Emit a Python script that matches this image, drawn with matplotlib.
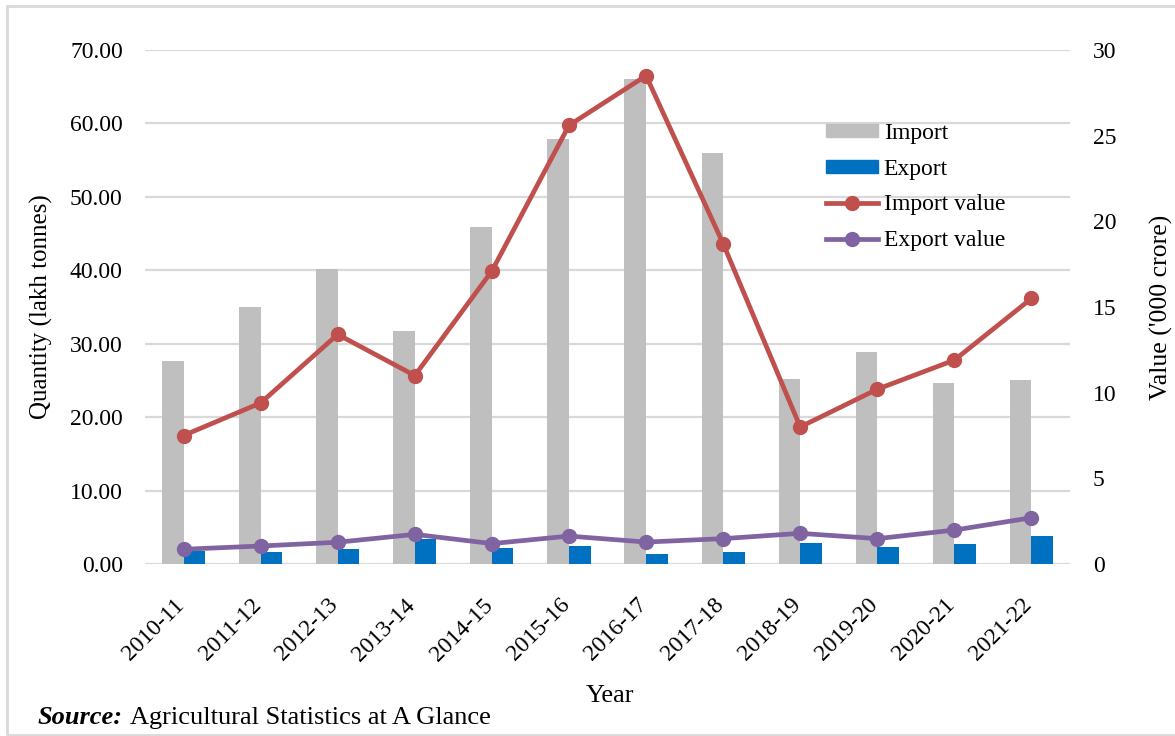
import matplotlib.pyplot as plt
from matplotlib.lines import Line2D
from matplotlib.patches import Patch, Rectangle
from matplotlib.transforms import ScaledTranslation
import numpy as np

years = ["2010-11", "2011-12", "2012-13", "2013-14", "2014-15", "2015-16",
         "2016-17", "2017-18", "2018-19", "2019-20", "2020-21", "2021-22"]
import_qty = [27.6, 35.0, 40.2, 31.7, 45.9, 57.9, 66.1, 56.0, 25.2, 28.9, 24.6, 25.1]
export_qty = [1.8, 1.6, 2.0, 3.4, 2.2, 2.5, 1.3, 1.7, 2.8, 2.3, 2.7, 3.8]
import_val = [7.5, 9.4, 13.4, 11.0, 17.1, 25.6, 28.5, 18.7, 8.0, 10.2, 11.9, 15.5]
export_val = [0.86, 1.05, 1.27, 1.73, 1.19, 1.63, 1.28, 1.48, 1.79, 1.48, 1.98, 2.7]

GRAY = "#BFBFBF"
BLUE = "#0070C0"
RED = "#C0504D"
PURPLE = "#8064A2"
GRID = "#D9D9D9"

plt.rcParams["font.family"] = ["Liberation Serif", "DejaVu Serif"]
plt.rcParams["font.size"] = 17

fig = plt.figure(figsize=(11.75, 7.36), dpi=100)
ax = fig.add_axes([145 / 1175, 1 - 564 / 736, 925 / 1175, 514 / 736])
ax2 = ax.twinx()

# Quantity bars on the left axis
x = np.arange(len(years))
w = 0.28
ax.bar(x - w / 2, import_qty, width=w, color=GRAY, zorder=2)
ax.bar(x + w / 2, export_qty, width=w, color=BLUE, zorder=2)

# Value lines on the right axis
ax2.plot(x, import_val, color=RED, lw=3.4, marker="o", ms=10, zorder=3)
ax2.plot(x, export_val, color=PURPLE, lw=3.4, marker="o", ms=10, zorder=3)

ax.set_xlim(-0.5, len(years) - 0.5)
ax.set_ylim(0, 70)
ax.set_yticks(np.arange(0, 71, 10))
ax.set_yticklabels([f"{v:.2f}" for v in np.arange(0, 71, 10)])
ax2.set_ylim(0, 30)
ax2.set_yticks(np.arange(0, 31, 5))

ax.yaxis.grid(True, color=GRID, lw=1.6, zorder=0)
ax.set_axisbelow(True)
for a in (ax, ax2):
    for s in ("top", "right", "left", "bottom"):
        a.spines[s].set_visible(False)
ax.axhline(0, color=GRID, lw=1.8, zorder=1)

ax.tick_params(axis="y", length=0, pad=16, labelsize=17)
ax2.tick_params(axis="y", length=0, pad=16.5, labelsize=17)
ax.tick_params(axis="x", length=0, pad=22, labelsize=17)
ax.set_xticks(x)
ax.set_xticklabels(years, rotation=45, ha="right", rotation_mode="anchor")
shift = ScaledTranslation(-10 / 100, 0, fig.dpi_scale_trans)
for lbl in ax.get_xticklabels():
    lbl.set_transform(lbl.get_transform() + shift)

ax.set_ylabel("Quantity (lakh tonnes)", fontsize=18, labelpad=12)
ax2.set_ylabel("Value ('000 crore)", fontsize=18.5, labelpad=24)
fig.text(610 / 1175, 1 - 696 / 736, "Year", ha="center", va="center", fontsize=19)

handles = [
    Patch(color=GRAY),
    Patch(color=BLUE),
    Line2D([], [], color=RED, lw=3.4, marker="o", ms=10),
    Line2D([], [], color=PURPLE, lw=3.4, marker="o", ms=10),
]
labels = ["Import", "Export", "Import value", "Export value"]
fig.legend(handles, labels, loc="upper left",
           bbox_to_anchor=(826 / 1175, 1 - 123 / 736),
           frameon=False, fontsize=17, handlelength=2.2,
           handleheight=0.45, handletextpad=0.25, labelspacing=0.62,
           borderaxespad=0, borderpad=0)

# Source note: bold italic lead-in followed by the plain title
src = fig.text(38 / 1175, 1 - 718 / 736, "Source:", fontsize=19,
               fontweight="bold", fontstyle="italic", ha="left", va="center")
ax.annotate("Agricultural Statistics at A Glance", xy=(1, 0.5), xycoords=src,
            xytext=(5, 0), textcoords="offset points", fontsize=19,
            ha="left", va="center", annotation_clip=False)

fig.patches.append(Rectangle((7 / 1175, 1 / 736), 1170 / 1175, 729 / 736,
                             transform=fig.transFigure, fill=False,
                             edgecolor=GRID, lw=2))

fig.savefig("out.png", dpi=100)
